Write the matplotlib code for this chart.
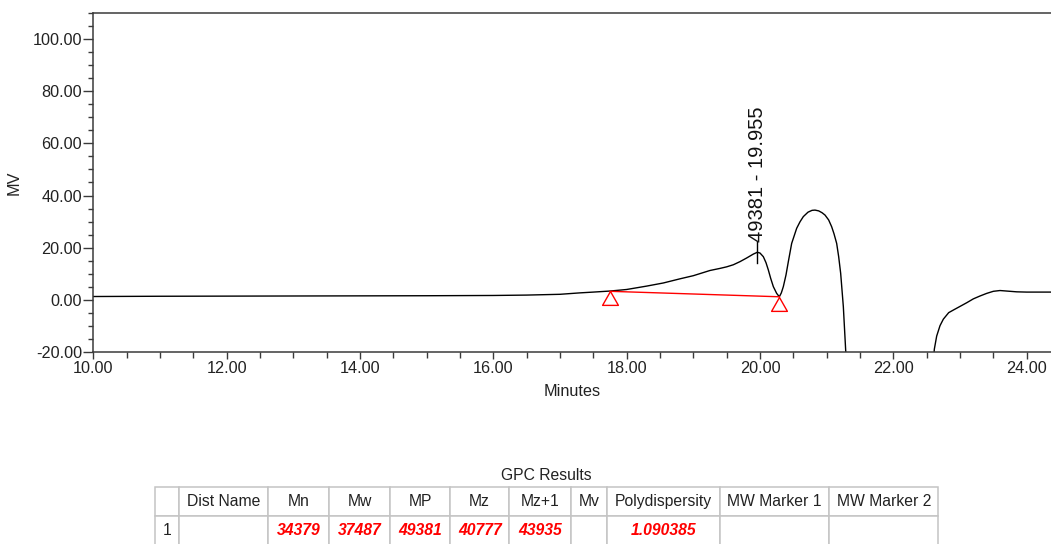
import matplotlib
matplotlib.use("Agg")
import matplotlib.pyplot as plt
from matplotlib.ticker import MultipleLocator, FormatStrFormatter

plt.rcParams['font.family'] = ['Liberation Sans', 'DejaVu Sans']

# chromatogram trace (minutes, mV)
minutes = [10.0, 11.0, 12.0, 13.0, 14.0, 15.0, 16.0, 16.5, 17.0, 17.3,
           17.5, 17.75, 18.0, 18.3, 18.55, 18.8, 19.0, 19.25, 19.4, 19.5,
           19.6, 19.7, 19.8, 19.9, 19.96, 20.0, 20.05, 20.09, 20.125, 20.16,
           20.2, 20.25, 20.29, 20.32, 20.35, 20.39, 20.425, 20.475, 20.55, 20.6,
           20.65, 20.72, 20.78, 20.825, 20.88, 20.93, 20.975, 21.03, 21.075, 21.11,
           21.15, 21.18, 21.21, 21.25, 21.285, 21.32, 22.58, 22.615, 22.65, 22.7,
           22.75, 22.83, 22.9, 23.0, 23.1, 23.2, 23.3, 23.4, 23.5, 23.6,
           23.7, 23.85, 24.0, 24.2, 24.4]
mv = [1.2, 1.3, 1.35, 1.4, 1.45, 1.5, 1.6, 1.75, 2.05, 2.6,
      2.9, 3.3, 3.9, 5.2, 6.4, 8.0, 9.2, 11.2, 12.0, 12.6,
      13.4, 14.6, 16.0, 17.5, 18.2, 17.9, 16.5, 14.2, 11.4, 8.2,
      5.0, 2.4, 1.1, 2.6, 5.0, 9.5, 14.6, 21.6, 27.4, 29.9,
      31.9, 33.6, 34.3, 34.4, 34.1, 33.4, 32.5, 30.6, 28.0, 25.3,
      21.6, 16.5, 10.1, -2.7, -19.4, -30.0, -30.0, -19.0, -14.0, -10.0,
      -7.5, -5.0, -4.0, -2.6, -1.2, 0.3, 1.4, 2.4, 3.2, 3.5,
      3.3, 3.0, 2.9, 2.9, 2.9]

# integration baseline end points
base_t = [17.75, 20.29]
base_mv = [3.2, 1.1]

peak_t = 19.96
peak_mv = 18.2
peak_label = "49381 - 19.955"

# GPC results table
col_labels = ["", "Dist Name", "Mn", "Mw", "MP", "Mz", "Mz+1", "Mv",
              "Polydispersity", "MW Marker 1", "MW Marker 2"]
row_values = ["1", "", "34379", "37487", "49381", "40777", "43935", "",
              "1.090385", "", ""]
col_px = [24.3, 89, 61, 60.7, 60, 59.3, 61.7, 35.7, 113.3, 109.3, 109]

W, H = 1051, 544
fig = plt.figure(figsize=(W / 100, H / 100), dpi=100)

ax = fig.add_axes([93.3 / W, 1 - 351.7 / H, 1 - 93.3 / W, (351.7 - 13.3) / H])
ax.plot(minutes, mv, color='black', lw=1.0)
ax.plot(base_t, base_mv, color='red', lw=1.0)
tri = [(0, 0), (-0.57, -1), (0.57, -1), (0, 0)]
ax.plot(base_t, base_mv, ls='none', marker=tri, ms=20, mfc='none',
        mec='red', mew=1.0)

# peak marker and label
ax.plot([peak_t, peak_t], [peak_mv - 4, peak_mv + 3.8], color='black', lw=1.0)
ax.text(peak_t + 0.01, peak_mv + 4.0, peak_label, rotation=90, ha='center',
        va='bottom', fontsize=14.5, color='#111111')

ax.set_xlim(10, 10 + (W - 93.3) / 66.67)
ax.set_ylim(-20, 110)
ax.xaxis.set_major_locator(MultipleLocator(2))
ax.xaxis.set_minor_locator(MultipleLocator(0.5))
ax.yaxis.set_major_locator(MultipleLocator(20))
ax.yaxis.set_minor_locator(MultipleLocator(5))
ax.xaxis.set_major_formatter(FormatStrFormatter('%.2f'))
ax.yaxis.set_major_formatter(FormatStrFormatter('%.2f'))

spine_c = '#3a3a3a'
for s in ['left', 'bottom', 'top']:
    ax.spines[s].set_color(spine_c)
    ax.spines[s].set_linewidth(1.1)
ax.spines['right'].set_visible(False)
ax.tick_params(axis='y', which='major', length=7.5, width=1.0, pad=0.5,
               labelsize=11.7, colors=spine_c, labelcolor='#222222')
ax.tick_params(axis='y', which='minor', length=3.5, width=1.0, colors=spine_c)
ax.tick_params(axis='x', which='major', length=5, width=1.0, pad=1.5,
               labelsize=11.7, colors=spine_c, labelcolor='#222222')
ax.tick_params(axis='x', which='minor', length=4, width=1.0, colors=spine_c)

ax.set_xlabel('Minutes', fontsize=11.7, labelpad=6, color='#222222')
ax.set_ylabel('MV', fontsize=11.7, labelpad=8, color='#222222')

# results table
x0, x1 = 155, 155 + sum(col_px)
tab_top, tab_bot = 486.7, 545.5
tax = fig.add_axes([x0 / W, 1 - tab_bot / H, (x1 - x0) / W, (tab_bot - tab_top) / H])
tax.axis('off')
total = sum(col_px)
tbl = tax.table(cellText=[row_values], colLabels=col_labels,
                colWidths=[c / total for c in col_px], bbox=[0, 0, 1, 1],
                cellLoc='center')
tbl.auto_set_font_size(False)
for (r, c), cell in tbl.get_celld().items():
    cell.set_edgecolor('#c4c4c4')
    cell.set_linewidth(1.1)
    txt = cell.get_text()
    txt.set_fontsize(11.3)
    if r == 1:
        if c == 0:
            cell._loc = 'left'
            cell.PAD = 0.4
            txt.set_color('#222222')
        else:
            cell._loc = 'right'
            cell.PAD = 9 / col_px[c] if c != 8 else 7 / col_px[c]
            txt.set_color('red')
            txt.set_fontweight('bold')
            txt.set_fontstyle('italic')
    else:
        txt.set_color('#222222')

fig.text((x0 + x1) / 2 / W, 1 - 475 / H, 'GPC Results', ha='center',
         va='center', fontsize=11.3, color='#222222')

fig.savefig('out.png', dpi=100)
